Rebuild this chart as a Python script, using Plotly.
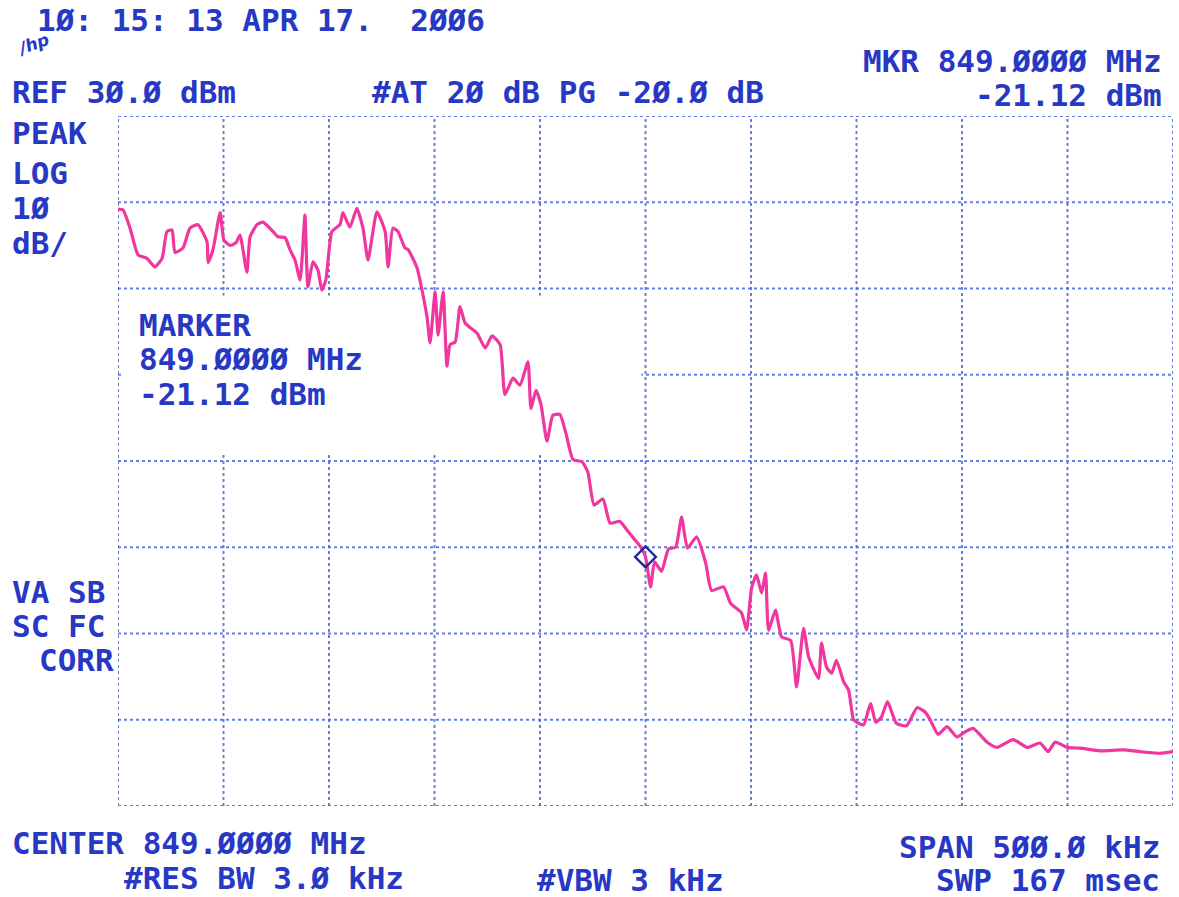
import plotly.graph_objects as go

# ---------------- data ----------------
REF_LEVEL_DBM = 30.0
DB_PER_DIV = 10.0
N_YDIV = 8
SPAN_KHZ = 500.0
N_XDIV = 10
MARKER_KHZ = 0.0
MARKER_DBM = -21.12

freq_offset_khz = [
    -250.0, -247.6, -244.3, -240.5, -236.3, -232.5, -229.1, -226.8, -224.4, -223.0,
    -219.2, -215.9, -212.1, -207.8, -207.3, -205.0, -201.6, -199.8, -196.9, -194.1,
    -192.2, -188.9, -187.4, -184.1, -181.3, -176.5, -174.2, -170.8, -168.5, -166.1,
    -163.7, -161.4, -160.0, -157.6, -155.2, -153.4, -151.5, -148.6, -144.8, -143.4,
    -140.1, -136.8, -133.9, -131.5, -127.3, -123.4, -122.0, -119.7, -117.3, -114.0,
    -112.5, -108.3, -105.9, -103.5, -102.1, -99.7, -98.3, -95.9, -94.1, -92.6,
    -90.2, -87.9, -85.5, -79.8, -76.0, -72.7, -68.9, -66.6, -62.8, -59.5,
    -55.7, -54.3, -51.9, -49.5, -46.7, -43.9, -40.6, -37.7, -34.4, -30.1,
    -27.3, -24.4, -20.2, -16.8, -12.1, -8.8, -5.5, -2.2, 0.0, 2.4,
    4.3, 7.6, 10.9, 14.3, 17.1, 19.9, 24.2, 28.5, 31.3, 37.0,
    40.3, 45.5, 47.9, 50.3, 52.6, 55.0, 56.9, 58.3, 61.6, 64.5,
    68.8, 71.6, 74.9, 77.3, 82.0, 83.4, 85.8, 88.2, 90.5, 93.9,
    96.3, 98.6, 101.0, 103.4, 106.7, 109.1, 111.8, 114.7, 118.9, 123.7,
    128.7, 132.5, 134.9, 138.7, 142.9, 147.7, 151.5, 155.3, 161.9, 166.6,
    174.2, 180.9, 187.0, 190.8, 194.2, 199.8, 206.0, 215.5, 226.4, 234.4,
    243.9, 250.0,
]

level_dbm = [
    19.2, 19.1, 17.0, 13.9, 13.5, 12.5, 13.5, 16.6, 16.8, 14.2,
    14.7, 17.0, 17.4, 15.4, 13.0, 14.5, 18.8, 15.6, 15.0, 15.3,
    16.2, 11.9, 16.0, 17.4, 17.7, 16.6, 16.0, 15.9, 14.5, 13.3,
    11.0, 18.5, 10.2, 13.1, 12.1, 9.8, 11.0, 16.6, 17.4, 18.8,
    17.1, 19.3, 17.0, 13.3, 18.9, 16.6, 12.5, 17.0, 16.6, 14.7,
    14.5, 12.4, 9.8, 6.6, 3.7, 9.6, 4.6, 9.6, 1.0, 3.5,
    3.8, 7.9, 6.0, 4.8, 3.1, 4.5, 3.5, -2.3, -0.4, -1.2,
    1.5, -3.9, -1.8, -3.5, -7.7, -4.7, -4.6, -6.8, -9.8, -10.1,
    -11.3, -15.1, -14.4, -17.2, -17.0, -18.0, -19.0, -20.0, -21.1, -24.6,
    -21.7, -22.8, -20.2, -20.0, -16.5, -20.1, -18.8, -21.8, -25.0, -24.6,
    -26.5, -27.6, -29.6, -24.7, -23.2, -25.3, -23.0, -29.6, -27.3, -30.4,
    -30.8, -36.2, -29.4, -32.7, -35.2, -31.1, -33.9, -34.6, -33.1, -35.6,
    -36.6, -40.0, -40.4, -40.6, -38.1, -40.3, -39.7, -37.9, -40.4, -40.7,
    -38.6, -39.1, -40.0, -41.7, -40.8, -42.0, -41.4, -41.0, -42.6, -43.2,
    -42.3, -43.2, -42.7, -43.7, -42.6, -43.2, -43.3, -43.6, -43.5, -43.7,
    -43.9, -43.7,
]

# ---------------- style ----------------
W, H = 1179, 897
L, R, T, B = 118, 6, 116, 91
TRACE_COLOR = "#f0379f"
TEXT_COLOR = "#2638c4"
GRID_COLOR = "rgba(60,95,225,0.8)"
FONT = "DejaVu Sans Mono"
FS = 31

x0, x1 = -SPAN_KHZ / 2, SPAN_KHZ / 2
y1 = REF_LEVEL_DBM
y0 = REF_LEVEL_DBM - N_YDIV * DB_PER_DIV

fig = go.Figure()
fig.add_trace(go.Scatter(
    x=freq_offset_khz, y=level_dbm, mode="lines",
    line=dict(color=TRACE_COLOR, width=3.2, shape="spline", smoothing=0.5),
    hoverinfo="skip", showlegend=False,
))
fig.add_trace(go.Scatter(
    x=[MARKER_KHZ], y=[MARKER_DBM], mode="markers",
    marker=dict(symbol="diamond-open", size=16, color="#1b2a9c", line=dict(width=2.4)),
    hoverinfo="skip", showlegend=False,
))

shapes = []
xstep = SPAN_KHZ / N_XDIV
for i in range(N_XDIV + 1):
    xv = x0 + i * xstep
    shapes.append(dict(type="line", xref="x", yref="y", x0=xv, x1=xv, y0=y0, y1=y1,
                       line=dict(color=GRID_COLOR, width=2, dash="dot"), layer="below"))
for j in range(N_YDIV + 1):
    yv = y0 + j * DB_PER_DIV
    shapes.append(dict(type="line", xref="x", yref="y", x0=x0, x1=x1, y0=yv, y1=yv,
                       line=dict(color=GRID_COLOR, width=2, dash="dot"), layer="below"))
# blank marker read-out box that hides the graticule
shapes.append(dict(type="rect", xref="x", yref="y", x0=x0 + 2, x1=MARKER_KHZ - 2,
                   y0=-10 + 0.8, y1=10 - 0.8, fillcolor="white",
                   line=dict(width=0), layer="below"))


def px(xp):
    return (xp - L) / (W - L - R)


def py(yp):
    return (H - B - yp) / (H - T - B)


texts = [
    ("1Ø: 15: 13 APR 17.  2ØØ6", 35, 20, "left"),
    ("MKR 849.ØØØØ MHz", 1164, 61, "right"),
    ("REF 3Ø.Ø dBm", 10, 92, "left"),
    ("#AT 2Ø dB PG -2Ø.Ø dB", 370, 92, "left"),
    ("-21.12 dBm", 1164, 95, "right"),
    ("PEAK", 10, 133, "left"),
    ("LOG", 10, 173, "left"),
    ("1Ø", 10, 208, "left"),
    ("dB/", 10, 243, "left"),
    ("MARKER", 137, 325, "left"),
    ("849.ØØØØ MHz", 137, 359, "left"),
    ("-21.12 dBm", 137, 394, "left"),
    ("VA SB", 10, 592, "left"),
    ("SC FC", 10, 626, "left"),
    ("CORR", 116, 660, "right"),
    ("CENTER 849.ØØØØ MHz", 10, 843, "left"),
    ("#RES BW 3.Ø kHz", 406, 878, "right"),
    ("#VBW 3 kHz", 535, 880, "left"),
    ("SPAN 5ØØ.Ø kHz", 1162, 847, "right"),
    ("SWP 167 msec", 1162, 880, "right"),
]

annotations = []
for t, xp, yp, anc in texts:
    annotations.append(dict(
        text=t, xref="paper", yref="paper", x=px(xp), y=py(yp),
        xanchor=anc, yanchor="middle", showarrow=False,
        font=dict(family=FONT, size=FS, color=TEXT_COLOR, weight="bold"),
    ))
annotations.append(dict(
    text="<i>/hp</i>", xref="paper", yref="paper", x=px(12), y=py(44),
    xanchor="left", yanchor="middle", showarrow=False, textangle=-20,
    font=dict(family="DejaVu Sans", size=17, color=TEXT_COLOR, weight="bold"),
))

fig.update_layout(
    width=W, height=H,
    margin=dict(l=L, r=R, t=T, b=B, pad=0),
    paper_bgcolor="white", plot_bgcolor="white",
    xaxis=dict(range=[x0, x1], showgrid=False, zeroline=False, showticklabels=False,
               ticks="", showline=False, fixedrange=True),
    yaxis=dict(range=[y0, y1], showgrid=False, zeroline=False, showticklabels=False,
               ticks="", showline=False, fixedrange=True),
    shapes=shapes,
    annotations=annotations,
    showlegend=False,
)

fig.write_html("out.html", config={"displayModeBar": False, "staticPlot": True},
               post_script="document.body.style.margin='0';")
